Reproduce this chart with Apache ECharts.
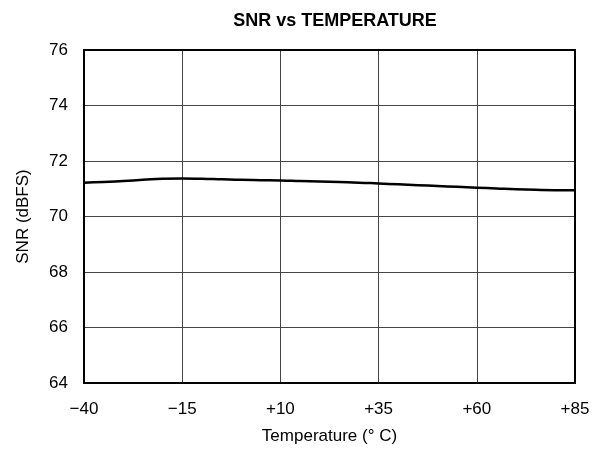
<!DOCTYPE html>
<html>
<head>
<meta charset="utf-8">
<script src="https://cdn.jsdelivr.net/npm/echarts@6/dist/echarts.min.js"></script>
<style>
  html, body { margin: 0; padding: 0; background: #fff; }
  #chart { width: 601px; height: 452px; }
</style>
</head>
<body>
<div id="chart"></div>
<script>
// 温度 (°C)
const temps = [-40, -35, -30, -25, -20, -15, -10, -5, 0, 5, 10, 15, 20, 25, 30, 35, 40, 45, 50, 55, 60, 65, 70, 75, 80, 85];
// SNR (dBFS)
const snr = [71.22, 71.24, 71.28, 71.32, 71.36, 71.37, 71.36, 71.34, 71.32, 71.31, 71.30, 71.28, 71.26, 71.24, 71.22, 71.19, 71.16, 71.13, 71.10, 71.07, 71.04, 71.01, 70.98, 70.96, 70.95, 70.95];
const xTicks = [-40, -15, 10, 35, 60, 85];
const yTicks = [64, 66, 68, 70, 72, 74, 76];

let myChart = echarts.init(document.getElementById('chart'));
const font = 'Liberation Sans, Arial, sans-serif';

myChart.setOption({
  animation: false,
  title: {
    text: 'SNR vs TEMPERATURE',
    left: 330,
    textAlign: 'center',
    top: 7,
    textStyle: { fontFamily: font, fontSize: 18, fontWeight: 'bold', color: '#000' }
  },
  grid: { left: 84, right: 26, top: 50, bottom: 69 },
  xAxis: {
    type: 'value',
    min: xTicks[0],
    max: xTicks[xTicks.length - 1],
    interval: 25,
    name: 'Temperature (° C)',
    nameLocation: 'middle',
    nameGap: 45,
    nameTextStyle: { fontFamily: font, fontSize: 17, color: '#000' },
    axisLine: { show: false },
    axisTick: { show: false },
    axisLabel: {
      margin: 18,
      fontFamily: font, fontSize: 17, color: '#000',
      formatter: v => v < 0 ? '\u2212' + Math.abs(v) : '+' + v
    },
    splitLine: { show: true, lineStyle: { color: '#444', width: 1 } }
  },
  yAxis: {
    type: 'value',
    min: yTicks[0],
    max: yTicks[yTicks.length - 1],
    interval: 2,
    name: 'SNR (dBFS)',
    nameLocation: 'middle',
    nameGap: 52,
    nameTextStyle: { fontFamily: font, fontSize: 17, color: '#000' },
    axisLine: { show: false },
    axisTick: { show: false },
    axisLabel: { margin: 16, fontFamily: font, fontSize: 17, color: '#000' },
    splitLine: { show: true, lineStyle: { color: '#444', width: 1 } }
  },
  series: [
    {
      type: 'line',
      data: temps.map((t, i) => [t, snr[i]]),
      smooth: true,
      showSymbol: false,
      lineStyle: { color: '#000', width: 2.5 }
    },
    {
      // 外框
      type: 'line',
      data: [],
      markArea: {
        silent: true,
        itemStyle: { color: 'transparent', borderColor: '#000', borderWidth: 2 },
        data: [[{ coord: [xTicks[0], yTicks[0]] }, { coord: [xTicks[xTicks.length - 1], yTicks[yTicks.length - 1]] }]]
      }
    }
  ]
});
</script>
</body>
</html>
